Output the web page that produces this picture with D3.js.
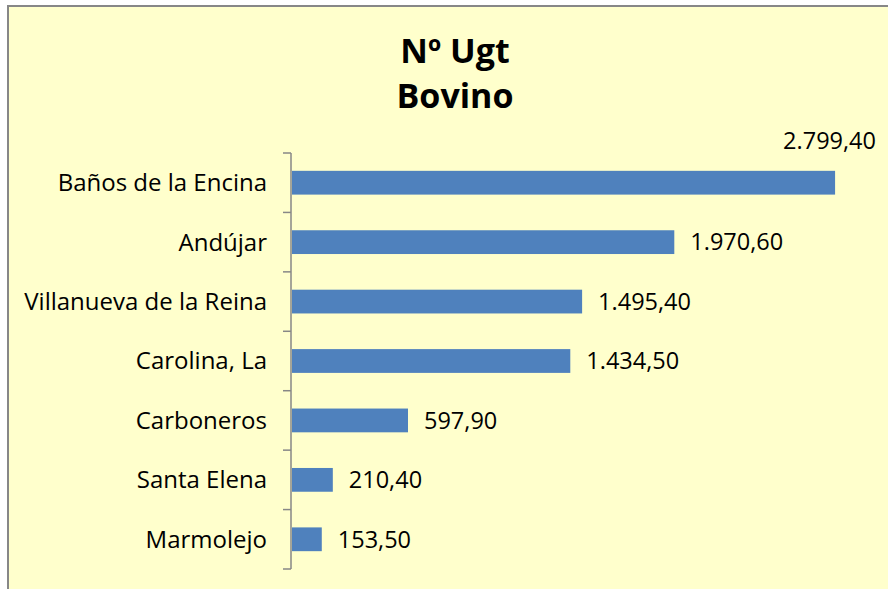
<!DOCTYPE html>
<html><head><meta charset="utf-8">
<script src="https://cdn.jsdelivr.net/npm/d3@7"></script>
<style>body{margin:0;background:#fff}svg{display:block}</style>
</head><body>
<svg id="c" width="888" height="589"></svg>
<script>
const titleLines = ["Nº Ugt", "Bovino"];
const categories = ["Baños de la Encina","Andújar","Villanueva de la Reina","Carolina, La","Carboneros","Santa Elena","Marmolejo"];
const values = [2799.40, 1970.60, 1495.40, 1434.50, 597.90, 210.40, 153.50];
const xDomain = [0, 3000];

const svg = d3.select("#c");
const W = 888, H = 589;
const font = "'Open Sans', sans-serif";

svg.append("rect").attr("x",8).attr("y",6).attr("width",W+20).attr("height",H+20)
  .attr("fill","#FFFFCC").attr("stroke","#878787").attr("stroke-width",2);

const tt = svg.append("text").attr("text-anchor","middle").attr("font-family",font)
  .attr("font-weight","bold").attr("font-size",34).attr("fill","#000");
titleLines.forEach((t,i)=>tt.append("tspan").attr("x",455).attr("y",63+i*45).text(t));

const x = d3.scaleLinear().domain(xDomain).range([292, 874]);
const y = d3.scaleBand().domain(categories).range([153, 569]).paddingInner(0.6).paddingOuter(0.3);

const g = svg.append("g");
const step = y.step();
const bounds = categories.map(c => y(c) - y.paddingInner()*step/2);
bounds.push(569);
g.append("line").attr("x1",291).attr("x2",291).attr("y1",153).attr("y2",569)
  .attr("stroke","#878787").attr("stroke-width",1.5);
g.selectAll("line.tk").data(bounds).join("line").attr("class","tk")
  .attr("x1",283).attr("x2",291).attr("y1",d=>d).attr("y2",d=>d)
  .attr("stroke","#878787").attr("stroke-width",1.5);

g.selectAll("text.cat").data(categories).join("text").attr("class","cat")
  .attr("x",267).attr("y",d=>y(d)+y.bandwidth()/2).attr("dy","0.35em")
  .attr("text-anchor","end").attr("font-family",font).attr("font-size",24).attr("fill","#000")
  .text(d=>d);

g.selectAll("rect.bar").data(values).join("rect").attr("class","bar")
  .attr("x",x(0)).attr("y",(d,i)=>y(categories[i]))
  .attr("width",d=>x(d)-x(0)).attr("height",y.bandwidth())
  .attr("fill","#4F81BD");

const fmt = v => {
  const s = v.toFixed(2).split(".");
  return s[0].replace(/\B(?=(\d{3})+(?!\d))/g,".") + "," + s[1];
};
g.selectAll("text.val").data(values).join("text").attr("class","val")
  .attr("font-family",font).attr("font-size",23.5).attr("fill","#000")
  .each(function(d,i){
    const t = d3.select(this).text(fmt(d));
    const xe = x(d);
    if (xe + 16 + 95 > W) {
      t.attr("x", 876).attr("text-anchor","end").attr("y", y(categories[i]) - 30).attr("dy","0.35em");
    } else {
      t.attr("x", xe + 16).attr("y", y(categories[i]) + y.bandwidth()/2).attr("dy","0.35em");
    }
  });
</script>
</body></html>
